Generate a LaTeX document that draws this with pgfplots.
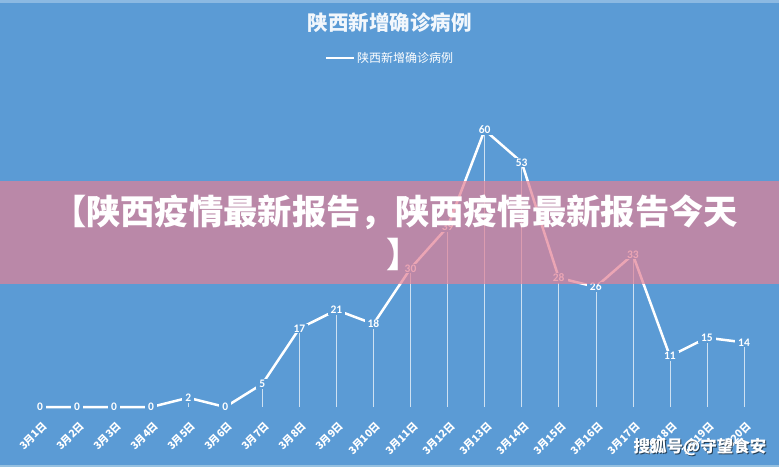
\documentclass[border=0pt]{standalone}
\usepackage{fontspec}
\usepackage{pgfplots}
\pgfplotsset{compat=1.18}
\newfontfamily\cjk{Noto Sans CJK SC}
\newfontfamily\lbl{Carlito}
\definecolor{bgblue}{RGB}{91,155,213}
\definecolor{banner}{RGB}{227,128,149}

\pgfplotstableread{
day cases
1 0
2 0
3 0
4 0
5 2
6 0
7 5
8 17
9 21
10 18
11 30
12 39
13 60
14 53
15 28
16 26
17 33
18 11
19 15
20 14
}\cases

\begin{document}
\begin{tikzpicture}[x=1pt,y=1pt]
\fill[bgblue] (0,0) rectangle (779,467);
\fill[bgblue!70!white] (0,464) rectangle (779,467);
\fill[cyan!30!bgblue!60!white] (0,0) rectangle (779,2);
\useasboundingbox (0,0) rectangle (779,467);
\begin{axis}[
  at={(40pt,60pt)}, anchor=south west,
  scale only axis, width=704pt, height=277pt,
  xmin=1, xmax=20, ymin=0, ymax=60,
  clip=false,
  axis line style={draw=none},
  major tick style={draw=none},
  ytick=\empty,
  xtick={1,...,20},
  xticklabels={3月1日,3月2日,3月3日,3月4日,3月5日,3月6日,3月7日,3月8日,3月9日,3月10日,
    3月11日,3月12日,3月13日,3月14日,3月15日,3月16日,3月17日,3月18日,3月19日,3月20日},
  xticklabel style={font=\cjk\bfseries\fontsize{10.5}{12}\selectfont, text=white,
    rotate=45, anchor=east, xshift=-5pt, yshift=-16pt},
  title={陕西新增确诊病例},
  title style={at={(0.497,1.365)}, anchor=center,
    font=\cjk\bfseries\fontsize{20.5}{22}\selectfont, text=white!92!bgblue},
  legend style={at={(0.497,1.26)}, anchor=center, draw=none, fill=none,
    font=\cjk\fontsize{12}{14}\selectfont, text=white},
  legend image code/.code={\draw[white, line width=2.5pt] (0pt,0pt) -- (28pt,0pt);},
]
\addplot[white, opacity=0.7, line width=0.5pt, ycomb, forget plot] table[x=day, y=cases] {\cases};
\addplot[white, line width=2.5pt,
  nodes near coords={\pgfmathprintnumber[assume math mode=true]{\pgfplotspointmeta}},
  nodes near coords style={font=\lbl\bfseries\fontsize{11.5}{11.5}\selectfont, text=white,
    fill=bgblue, inner xsep=3pt, inner ysep=1pt, anchor=center}]
  table[x=day, y=cases] {\cases};
\addlegendentry{陕西新增确诊病例}
\end{axis}
\fill[banner, opacity=0.7] (0,183) rectangle (779,286);
\node[font=\cjk\bfseries\fontsize{34.3}{36}\selectfont, text=white] at (395,255)
  {【陕西疫情最新报告，陕西疫情最新报告今天};
\node[font=\cjk\bfseries\fontsize{34.3}{36}\selectfont, text=white] at (404,213) {】};
\node[font=\cjk\bfseries\fontsize{16.5}{18}\selectfont, text=black, opacity=0.6] at (701,19) {搜狐号@守望食安};
\node[font=\cjk\bfseries\fontsize{16.5}{18}\selectfont, text=white] at (700,20) {搜狐号@守望食安};
\end{tikzpicture}
\end{document}
